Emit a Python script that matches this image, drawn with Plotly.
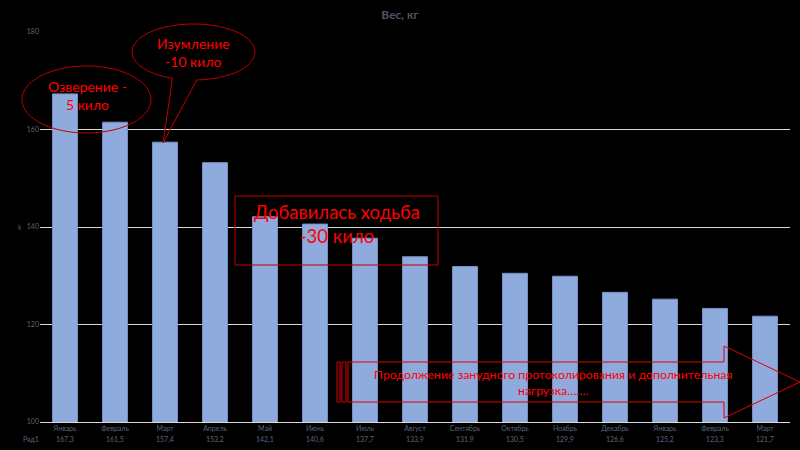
import numpy as np
import plotly.graph_objects as go

months = ["Январь", "Февраль", "Март", "Апрель", "Май", "Июнь", "Июль", "Август",
          "Сентябрь", "Октябрь", "Ноябрь", "Декабрь", "Январь", "Февраль", "Март"]
weights = [167.3, 161.5, 157.4, 153.2, 142.1, 140.6, 137.7, 133.9,
           131.9, 130.5, 129.9, 126.6, 125.2, 123.3, 121.7]
series_name = "Ряд1"
title_text = "Вес, кг"
y_title = "кг"
note1 = "Озверение -<br>5 кило"
note2 = "Изумление<br>-10 кило"
note3 = "Добавилась ходьба<br>-30 кило"
note4 = "Продолжение занудного протоколирования и дополнительная<br>нагрузка……."

W, H = 800, 450
L, R, T, B = 40, 10, 32, 28
PW, PH = W - L - R, H - T - B


def px(x):
    return (x - L) / PW


def py(y):
    return (H - B - y) / PH


FONT = "Lato, 'Open Sans', sans-serif"
LABEL = "#5b6579"
RED = "#ff0000"
DARKRED = "#c00000"

x_idx = list(range(len(months)))

fig = go.Figure()
fig.add_trace(go.Bar(
    x=x_idx, y=weights, name=series_name, width=0.5,
    marker=dict(color="#8faadc", line=dict(color="#7590c8", width=1)),
))


def ellipse_pts(cx, cy, rx, ry, t0, t1, n=120):
    t = np.linspace(np.radians(t0), np.radians(t1), n)
    return [(cx + rx * np.cos(a), cy + ry * np.sin(a)) for a in t]


def path_from(pts, close=True):
    s = "M " + " L ".join(f"{px(x):.5f},{py(y):.5f}" for x, y in pts)
    return s + (" Z" if close else "")


shapes = []
shapes.append(dict(type="path", xref="paper", yref="paper",
                   path=path_from(ellipse_pts(86.5, 99.5, 64.5, 33.5, 0, 360)),
                   line=dict(color=DARKRED, width=1)))
pts = ellipse_pts(193.5, 52, 61.5, 28, 110, 447)
pts.append((163, 143))
shapes.append(dict(type="path", xref="paper", yref="paper",
                   path=path_from(pts), line=dict(color=DARKRED, width=1)))
shapes.append(dict(type="rect", xref="paper", yref="paper",
                   x0=px(235), x1=px(438), y0=py(265), y1=py(196),
                   line=dict(color=DARKRED, width=1)))
arrow = [(348, 362), (724, 362), (724, 346), (800, 382), (724, 418), (724, 402), (348, 402)]
shapes.append(dict(type="path", xref="paper", yref="paper",
                   path=path_from(arrow), line=dict(color="#e00000", width=1)))
for a, b in [(337, 340), (342, 346)]:
    shapes.append(dict(type="rect", xref="paper", yref="paper",
                       x0=px(a), x1=px(b), y0=py(402), y1=py(362),
                       line=dict(color="#e00000", width=1)))


def note(x, y, text, size, color=RED, xref="paper"):
    return dict(xref=xref, yref="paper", x=x if xref != "paper" else px(x), y=py(y),
                text=text, showarrow=False, xanchor="center", yanchor="middle",
                font=dict(color=color, size=size, family=FONT))


ann = [
    note(87, 96, note1, 14),
    note(193, 52, note2, 14),
    note(337, 224, note3, 18.5),
    note(553, 382, note4, 12.3),
    note(31, 439, series_name, 7, LABEL),
]
for i, v in zip(x_idx, weights):
    ann.append(note(i, 439, f"{v:.1f}".replace(".", ","), 7, LABEL, xref="x"))

fig.update_layout(
    width=W, height=H,
    margin=dict(l=L, r=R, t=T, b=B),
    paper_bgcolor="black", plot_bgcolor="black",
    showlegend=False,
    title=dict(text=f"<b>{title_text}</b>", x=0.5, xanchor="center", y=1 - 15 / H,
               yanchor="middle", font=dict(color="#4a5568", size=12, family=FONT)),
    xaxis=dict(tickmode="array", tickvals=x_idx, ticktext=months,
               range=[-0.5, len(months) - 0.5], showgrid=False, zeroline=False,
               showline=True, linecolor="#d9d9d9", linewidth=1, ticks="",
               tickfont=dict(color=LABEL, size=7, family=FONT)),
    yaxis=dict(range=[100, 180], dtick=20, showgrid=True, gridcolor="#d9d9d9",
               gridwidth=1, zeroline=False, ticks="",
               tickfont=dict(color=LABEL, size=7, family=FONT),
               title=dict(text=y_title, font=dict(color=LABEL, size=6, family=FONT), standoff=4)),
    shapes=shapes, annotations=ann,
    bargap=0.5,
)

fig.write_html("out.html", config={"displayModeBar": False},
               post_script="document.body.style.margin='0';document.body.style.background='black';")
